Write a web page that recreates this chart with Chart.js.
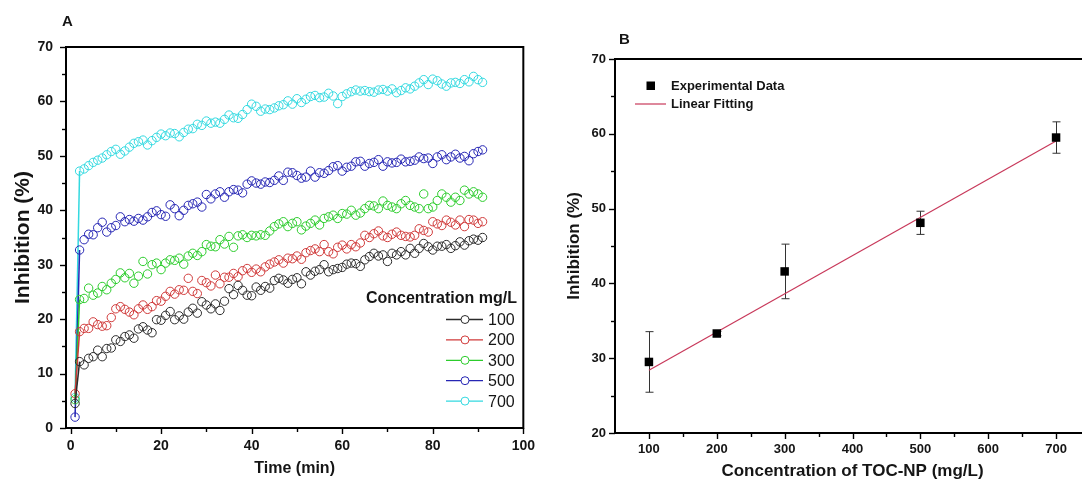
<!DOCTYPE html>
<html>
<head>
<meta charset="utf-8">
<script src="https://cdn.jsdelivr.net/npm/chart.js@4.4.1/dist/chart.umd.min.js"></script>
<style>
  html, body { margin: 0; padding: 0; background: #fff; overflow: hidden; width: 1082px; height: 484px; }
  #panelA { position: absolute; left: 0; top: 0; }
  #panelB { position: absolute; left: 545px; top: 0; }
</style>
</head>
<body>
<canvas id="panelA" width="545" height="484"></canvas>
<canvas id="panelB" width="565" height="484"></canvas>
<script>
// ---- panel A: inhibition vs time ----
const timeMin = [1, 2, 3, 4, 5, 6, 7, 8, 9, 10,
  11, 12, 13, 14, 15, 16, 17, 18, 19, 20,
  21, 22, 23, 24, 25, 26, 27, 28, 29, 30,
  31, 32, 33, 34, 35, 36, 37, 38, 39, 40,
  41, 42, 43, 44, 45, 46, 47, 48, 49, 50,
  51, 52, 53, 54, 55, 56, 57, 58, 59, 60,
  61, 62, 63, 64, 65, 66, 67, 68, 69, 70,
  71, 72, 73, 74, 75, 76, 77, 78, 79, 80,
  81, 82, 83, 84, 85, 86, 87, 88, 89, 90, 91];

const conc100 = [4.5, 12.2, 11.6, 12.8, 13.1, 14.3, 13.1, 14.6, 14.7, 16.2,
  15.9, 16.8, 17.1, 16.5, 18.2, 18.6, 18.0, 17.5, 19.9, 19.8,
  20.7, 21.4, 19.9, 20.6, 20.0, 21.3, 22.0, 21.1, 23.2, 22.6,
  21.9, 22.8, 21.6, 23.3, 25.6, 24.5, 26.2, 25.3, 24.4, 24.3,
  25.9, 25.3, 26.0, 25.7, 27.1, 27.5, 27.2, 26.6, 27.3, 27.6,
  26.5, 28.7, 28.1, 28.8, 29.1, 30.0, 28.7, 29.1, 29.3, 29.5,
  30.1, 30.3, 30.2, 29.7, 30.9, 31.5, 32.1, 31.6, 31.8, 30.6,
  32.1, 31.8, 32.4, 31.8, 33.0, 32.1, 33.0, 33.9, 33.3, 32.7,
  33.4, 33.4, 33.7, 33.0, 33.5, 34.2, 33.6, 34.4, 34.7, 34.5, 35.0];

const conc200 = [6.3, 17.7, 18.3, 18.3, 19.5, 19.0, 18.7, 18.8, 20.3, 21.9,
  22.3, 21.8, 21.3, 20.8, 21.9, 22.6, 21.8, 22.3, 23.4, 23.3,
  24.2, 25.1, 24.6, 25.4, 25.3, 27.5, 25.1, 24.7, 27.1, 26.7,
  26.1, 28.1, 26.5, 27.7, 27.7, 28.4, 27.8, 28.9, 29.3, 28.6,
  29.2, 28.7, 29.6, 30.1, 30.5, 30.9, 30.3, 31.2, 31.1, 31.6,
  31.0, 32.2, 32.6, 32.9, 32.4, 33.7, 32.4, 32.0, 33.2, 33.6,
  32.9, 33.7, 33.3, 34.0, 35.4, 35.0, 35.7, 36.2, 35.3, 35.0,
  35.6, 36.0, 35.4, 35.2, 35.1, 35.4, 36.6, 36.3, 36.0, 37.9,
  37.5, 37.2, 38.2, 37.8, 37.3, 38.2, 37.0, 38.3, 38.2, 37.6, 37.9];

const conc300 = [5.2, 23.6, 23.8, 25.7, 24.4, 24.8, 26.0, 25.4, 26.6, 27.3,
  28.5, 27.6, 28.4, 26.6, 27.9, 30.6, 28.3, 30.0, 30.3, 29.1,
  30.3, 30.9, 30.8, 31.2, 30.1, 31.6, 32.1, 31.7, 32.4, 33.7,
  33.4, 33.3, 34.6, 33.8, 35.2, 33.2, 35.3, 35.5, 35.0, 35.4,
  35.3, 35.5, 35.4, 36.2, 37.0, 37.5, 37.9, 37.0, 37.6, 37.9,
  36.4, 37.1, 37.6, 38.2, 37.3, 38.5, 38.8, 39.1, 38.5, 39.4,
  39.3, 40.0, 39.1, 39.5, 40.3, 40.9, 40.8, 40.3, 41.7, 40.9,
  40.6, 40.3, 41.2, 41.8, 40.9, 40.6, 40.3, 43.0, 40.3, 40.6,
  41.8, 43.0, 42.4, 41.5, 42.4, 41.8, 43.7, 43.0, 43.4, 43.0, 42.4];

const conc500 = [2.0, 32.7, 34.6, 35.6, 35.5, 36.8, 37.8, 36.0, 36.8, 37.2,
  38.8, 37.9, 38.3, 38.0, 38.5, 38.2, 38.8, 39.6, 39.9, 39.2,
  38.9, 41.0, 40.3, 39.0, 40.0, 40.9, 41.2, 41.5, 40.6, 42.9,
  42.1, 43.0, 43.4, 42.4, 43.4, 43.8, 43.7, 43.2, 44.8, 45.4,
  45.0, 44.8, 45.2, 45.1, 45.5, 46.3, 45.5, 47.0, 46.9, 46.4,
  45.9, 46.1, 47.2, 46.1, 46.9, 46.8, 47.3, 48.0, 48.2, 47.2,
  47.9, 48.1, 48.9, 49.0, 48.1, 48.6, 48.8, 49.3, 48.1, 48.9,
  48.7, 48.8, 49.4, 48.9, 49.0, 49.2, 49.8, 49.5, 49.6, 48.6,
  49.8, 50.2, 49.3, 49.8, 50.3, 49.6, 49.9, 49.1, 50.4, 50.8, 51.1];

const conc700 = [5.6, 47.2, 47.6, 48.2, 48.8, 49.2, 49.6, 50.2, 50.8, 51.2,
  50.3, 50.9, 51.6, 52.3, 52.6, 52.9, 52.0, 52.8, 53.4, 54.0,
  53.7, 54.2, 54.1, 53.5, 54.3, 54.9, 55.0, 55.8, 55.6, 56.4,
  56.0, 56.2, 56.0, 56.7, 57.5, 57.0, 56.9, 57.6, 58.5, 59.5,
  59.1, 58.2, 58.6, 58.5, 58.8, 59.2, 59.4, 60.1, 59.5, 60.5,
  59.8, 60.4, 60.9, 61.1, 60.7, 60.8, 61.5, 61.0, 59.6, 60.9,
  61.4, 61.8, 62.1, 61.9, 62.0, 61.8, 61.7, 62.1, 62.2, 61.9,
  62.3, 61.6, 62.0, 62.5, 62.3, 62.8, 63.4, 64.0, 63.1, 64.1,
  63.8, 63.2, 62.8, 63.4, 63.5, 63.3, 64.0, 63.6, 64.6, 64.0, 63.5];

const seriesLabels = ['100', '200', '300', '500', '700'];
const seriesColors = ['#2b2b2b', '#d03a3a', '#2ccc2c', '#2626b4', '#33d9e0'];
const timeTicks = [0, 20, 40, 60, 80, 100];
const timeMinorTicks = [10, 30, 50, 70, 90];
const inhibTicksA = [0, 10, 20, 30, 40, 50, 60, 70];
const inhibMinorA = [5, 15, 25, 35, 45, 55, 65];

// ---- panel B: inhibition vs concentration ----
const tocConc = [100, 200, 300, 500, 700];
const tocInhibition = [29.5, 33.3, 41.6, 48.1, 59.5];
const tocError = [4.05, 0.3, 3.65, 1.55, 2.1];
const fitConc = [100, 700];
const fitInhibition = [28.4, 59.05];
const concTicks = [100, 200, 300, 400, 500, 600, 700];
const concMinorTicks = [150, 250, 350, 450, 550, 650];
const inhibTicksB = [20, 30, 40, 50, 60, 70];
const inhibMinorB = [25, 35, 45, 55, 65];

const FONT = '"Liberation Sans", Arial, sans-serif';
const INK = '#151515';

// box around the plot + outward tick marks (major / minor)
const framePlugin = {
  id: 'frame',
  afterDraw(chart, args, o) {
    const { ctx, chartArea: a } = chart;
    const x = chart.scales.x, y = chart.scales.y;
    ctx.save();
    ctx.strokeStyle = '#000';
    ctx.lineWidth = 2;
    ctx.strokeRect(a.left, a.top, a.right - a.left, a.bottom - a.top);
    ctx.lineWidth = 1.4;
    const marks = (vals, len, isX) => vals.forEach(v => {
      ctx.beginPath();
      if (isX) {
        const px = Math.round(x.getPixelForValue(v)) + 0.5;
        ctx.moveTo(px, a.bottom);
        ctx.lineTo(px, a.bottom + len);
      } else {
        const py = Math.round(y.getPixelForValue(v)) + 0.5;
        ctx.moveTo(a.left, py);
        ctx.lineTo(a.left - len, py);
      }
      ctx.stroke();
    });
    marks(o.majorX, o.majorLen, true);
    marks(o.minorX, o.minorLen, true);
    marks(o.majorY, o.majorLen, false);
    marks(o.minorY, o.minorLen, false);
    // panel letter
    ctx.fillStyle = INK;
    ctx.font = 'bold 15px ' + FONT;
    ctx.textBaseline = 'middle';
    ctx.textAlign = 'left';
    ctx.fillText(o.letter, o.letterX, o.letterY);
    ctx.restore();
  }
};

const legendAPlugin = {
  id: 'legendA',
  afterDraw(chart) {
    const ctx = chart.ctx;
    ctx.save();
    ctx.textBaseline = 'middle';
    ctx.fillStyle = INK;
    ctx.font = 'bold 16px ' + FONT;
    ctx.textAlign = 'right';
    ctx.fillText('Concentration mg/L', 517, 299);
    ctx.font = '16px ' + FONT;
    ctx.textAlign = 'left';
    chart.data.datasets.forEach((ds, i) => {
      const yy = 319.5 + i * 20.4;
      ctx.strokeStyle = ds.pointBorderColor;
      ctx.lineWidth = 1.3;
      ctx.beginPath();
      ctx.moveTo(446, yy);
      ctx.lineTo(483, yy);
      ctx.stroke();
      ctx.fillStyle = '#fff';
      ctx.beginPath();
      ctx.arc(465, yy, 4, 0, Math.PI * 2);
      ctx.fill();
      ctx.lineWidth = 1;
      ctx.stroke();
      ctx.fillStyle = INK;
      ctx.fillText(ds.label, 488, yy + 1);
    });
    ctx.restore();
  }
};

const errorBarPlugin = {
  id: 'errorBars',
  beforeDatasetsDraw(chart) {
    const { ctx } = chart;
    const x = chart.scales.x, y = chart.scales.y;
    ctx.save();
    ctx.strokeStyle = '#333';
    ctx.lineWidth = 1;
    tocConc.forEach((c, i) => {
      const px = Math.round(x.getPixelForValue(c)) + 0.5;
      const top = y.getPixelForValue(tocInhibition[i] + tocError[i]);
      const bot = y.getPixelForValue(tocInhibition[i] - tocError[i]);
      ctx.beginPath();
      ctx.moveTo(px, top); ctx.lineTo(px, bot);
      ctx.moveTo(px - 4, top); ctx.lineTo(px + 4, top);
      ctx.moveTo(px - 4, bot); ctx.lineTo(px + 4, bot);
      ctx.stroke();
    });
    ctx.restore();
  }
};

const legendBPlugin = {
  id: 'legendB',
  afterDraw(chart) {
    const ctx = chart.ctx;
    const ds = chart.data.datasets;
    ctx.save();
    ctx.textBaseline = 'middle';
    ctx.textAlign = 'left';
    ctx.font = 'bold 13px ' + FONT;
    ctx.fillStyle = '#000';
    ctx.fillRect(101.5, 81.5, 8.5, 8.5);
    ctx.fillStyle = INK;
    ctx.fillText(ds[0].label, 126, 86);
    ctx.strokeStyle = ds[1].borderColor;
    ctx.lineWidth = 1.2;
    ctx.beginPath();
    ctx.moveTo(90, 104);
    ctx.lineTo(121, 104);
    ctx.stroke();
    ctx.fillText(ds[1].label, 126, 104);
    ctx.restore();
  }
};

const tickFontA = { family: FONT, size: 14, weight: 'bold' };
const tickFontB = { family: FONT, size: 13, weight: 'bold' };
const setTicks = vals => scale => { scale.ticks = vals.map(v => ({ value: v })); };

new Chart(document.getElementById('panelA'), {
  type: 'scatter',
  data: {
    datasets: [conc100, conc200, conc300, conc500, conc700].map((vals, i) => ({
      label: seriesLabels[i],
      data: timeMin.map((t, j) => ({ x: t, y: vals[j] })),
      showLine: true,
      borderColor: seriesColors[i],
      borderWidth: 1.5,
      backgroundColor: 'transparent',
      pointRadius: 4.2,
      pointBorderWidth: 1,
      pointBorderColor: seriesColors[i],
      pointBackgroundColor: 'transparent',
      segment: { borderColor: c => (c.p0DataIndex === 0 ? seriesColors[i] : 'transparent') }
    }))
  },
  options: {
    responsive: false,
    animation: false,
    devicePixelRatio: 1,
    layout: { padding: { top: 47, right: 18, bottom: 0, left: 0 } },
    plugins: {
      legend: { display: false },
      tooltip: { enabled: false },
      frame: {
        majorX: timeTicks, minorX: timeMinorTicks, majorY: inhibTicksA, minorY: inhibMinorA,
        majorLen: 6, minorLen: 4, letter: 'A', letterX: 62, letterY: 22
      }
    },
    scales: {
      x: {
        type: 'linear', min: -1, max: 100,
        afterBuildTicks: setTicks(timeTicks),
        afterFit: s => { s.height = 56; },
        grid: { display: false, drawTicks: false },
        border: { display: false },
        ticks: { padding: 10, font: tickFontA, color: INK, maxRotation: 0, autoSkip: false },
        title: { display: true, text: 'Time (min)', color: INK,
          font: { family: FONT, size: 16, weight: 'bold', lineHeight: 1 }, padding: { top: 0, bottom: 7 } }
      },
      y: {
        type: 'linear', min: 0, max: 70,
        afterBuildTicks: setTicks(inhibTicksA),
        afterFit: s => { s.width = 66; },
        grid: { display: false, drawTicks: false },
        border: { display: false },
        ticks: { padding: 13, font: tickFontA, color: INK },
        title: { display: true, text: 'Inhibition (%)', color: INK,
          font: { family: FONT, size: 21, weight: 'bold', lineHeight: 1 }, padding: { top: 13, bottom: 0 } }
      }
    }
  },
  plugins: [framePlugin, legendAPlugin]
});

new Chart(document.getElementById('panelB'), {
  type: 'scatter',
  data: {
    datasets: [
      {
        label: 'Experimental Data',
        data: tocConc.map((c, i) => ({ x: c, y: tocInhibition[i] })),
        pointStyle: 'rect',
        pointRadius: 6,
        pointBackgroundColor: '#000',
        pointBorderColor: '#000',
        pointBorderWidth: 0,
        showLine: false
      },
      {
        label: 'Linear Fitting',
        data: fitConc.map((c, i) => ({ x: c, y: fitInhibition[i] })),
        showLine: true,
        borderColor: '#c8385a',
        borderWidth: 1.2,
        pointRadius: 0
      }
    ]
  },
  options: {
    responsive: false,
    animation: false,
    devicePixelRatio: 1,
    layout: { padding: { top: 59, right: 20, bottom: 0, left: 0 } },
    plugins: {
      legend: { display: false },
      tooltip: { enabled: false },
      frame: {
        majorX: concTicks, minorX: concMinorTicks, majorY: inhibTicksB, minorY: inhibMinorB,
        majorLen: 6, minorLen: 4, letter: 'B', letterX: 74, letterY: 40
      }
    },
    scales: {
      x: {
        type: 'linear', min: 50, max: 750,
        afterBuildTicks: setTicks(concTicks),
        afterFit: s => { s.height = 51; },
        grid: { display: false, drawTicks: false },
        border: { display: false },
        ticks: { padding: 9, font: tickFontB, color: INK, maxRotation: 0, autoSkip: false },
        title: { display: true, text: 'Concentration of TOC-NP (mg/L)', color: INK,
          font: { family: FONT, size: 17, weight: 'bold', lineHeight: 1 }, padding: { top: 0, bottom: 4 } }
      },
      y: {
        type: 'linear', min: 20, max: 70,
        afterBuildTicks: setTicks(inhibTicksB),
        afterFit: s => { s.width = 70; },
        grid: { display: false, drawTicks: false },
        border: { display: false },
        ticks: { padding: 9, font: tickFontB, color: INK },
        title: { display: true, text: 'Inhibition (%)', color: INK,
          font: { family: FONT, size: 17, weight: 'bold', lineHeight: 1 }, padding: { top: 21, bottom: 0 } }
      }
    }
  },
  plugins: [framePlugin, errorBarPlugin, legendBPlugin]
});
</script>
</body>
</html>
